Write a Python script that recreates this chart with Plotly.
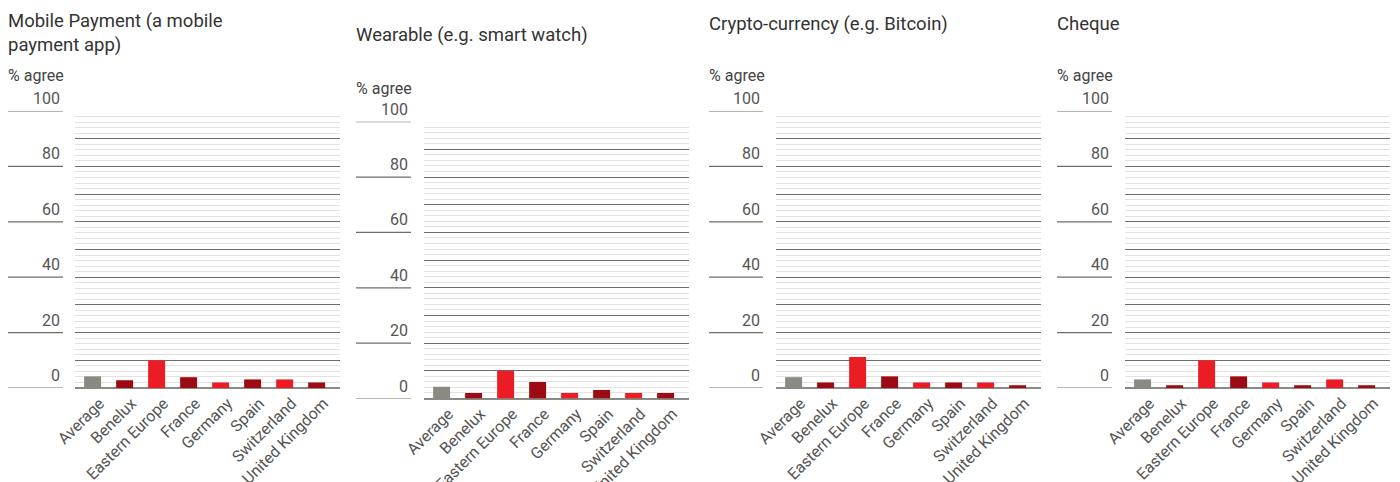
import plotly.graph_objects as go

categories = ["Average", "Benelux", "Eastern Europe", "France", "Germany",
              "Spain", "Switzerland", "United Kingdom"]
mobile_payment = [4.2, 2.8, 10.0, 3.9, 2.0, 3.1, 3.1, 2.0]
wearable = [4.2, 2.0, 10.0, 6.0, 2.0, 3.1, 2.0, 2.0]
crypto = [3.9, 2.0, 11.2, 4.2, 2.0, 2.0, 2.0, 1.0]
cheque = [3.1, 1.0, 10.0, 4.2, 2.0, 1.0, 3.1, 1.0]
titles = ["Mobile Payment (a mobile<br>payment app)", "Wearable (e.g. smart watch)",
          "Crypto-currency (e.g. Bitcoin)", "Cheque"]
y_label = "% agree"
tick_values = [0, 20, 40, 60, 80, 100]
tick_labels = ["0", "20", "40", "60", "80", "100"]

series = [mobile_payment, wearable, crypto, cheque]
bar_colors = ["#8a8a83", "#9c0a13", "#ec1c24", "#9c0a13", "#ec1c24",
              "#9c0a13", "#ec1c24", "#9c0a13"]

W, H = 1400, 482
FONT = "Roboto, 'Open Sans', sans-serif"
# panel geometry in pixels
panels = [
    dict(lx0=8, lx1=63, gx0=75, gx1=340, y0=388, y100=111, ty=8, ay=75),
    dict(lx0=356, lx1=411, gx0=424, gx1=689, y0=398.5, y100=121.7, ty=22, ay=88),
    dict(lx0=709, lx1=763, gx0=776, gx1=1041, y0=388, y100=111, ty=11, ay=75),
    dict(lx0=1057, lx1=1112, gx0=1125, gx1=1390, y0=388, y100=111, ty=11, ay=75),
]

fig = go.Figure()
shapes = []
annotations = []
for i, (vals, p) in enumerate(zip(series, panels)):
    n = i + 1
    xa = "x" if n == 1 else f"x{n}"
    ya = "y" if n == 1 else f"y{n}"
    fig.add_trace(go.Bar(x=categories, y=vals, marker=dict(color=bar_colors, line=dict(width=0)),
                         width=0.53, xaxis=xa, yaxis=ya, showlegend=False, hoverinfo="x+y"))
    xkey = "xaxis" if n == 1 else f"xaxis{n}"
    ykey = "yaxis" if n == 1 else f"yaxis{n}"
    fig.layout[xkey] = dict(domain=[p["gx0"] / W, p["gx1"] / W], anchor=ya,
                            range=[-0.55, 7.73], showgrid=False, zeroline=False,
                            showline=False, ticks="", tickangle=-45, automargin=False,
                            ticklabelshift=7, ticklabelstandoff=2,
                            tickfont=dict(family=FONT, size=16, color="#555555"),
                            fixedrange=True)
    fig.layout[ykey] = dict(domain=[1 - p["y0"] / H, 1 - p["y100"] / H], anchor=xa,
                            range=[0, 100], tick0=0, dtick=10, showgrid=True,
                            gridcolor="#6e6e69", gridwidth=1, zeroline=True,
                            zerolinecolor="#8a8a85", zerolinewidth=1.5, automargin=False,
                            showticklabels=False, showline=False, ticks="",
                            minor=dict(dtick=2, showgrid=True, gridcolor="#e2e2e2", gridwidth=1.2),
                            fixedrange=True)
    yref = ya
    for v, t in zip(tick_values, tick_labels):
        shapes.append(dict(type="line", xref="paper", yref=yref,
                           x0=p["lx0"] / W, x1=p["lx1"] / W, y0=v, y1=v,
                           line=dict(color="#6e6e69", width=1.2)))
        annotations.append(dict(text=t, xref="paper", yref=yref, x=(p["lx1"] - 1) / W, y=v,
                                xanchor="right", yanchor="bottom", showarrow=False, yshift=1,
                                font=dict(family=FONT, size=16, color="#555555")))
    annotations.append(dict(text=titles[i], xref="paper", yref="paper", x=(p["lx0"] - 2) / W,
                            y=1 - p["ty"] / H, xanchor="left", yanchor="top", align="left",
                            showarrow=False,
                            font=dict(family=FONT, size=18.5, color="#333333")))
    annotations.append(dict(text=y_label, xref="paper", yref="paper", x=(p["lx0"] - 2) / W,
                            y=1 - p["ay"] / H, xanchor="left", yanchor="middle",
                            showarrow=False,
                            font=dict(family=FONT, size=16, color="#444444")))

fig.update_layout(width=W, height=H, margin=dict(l=0, r=0, t=0, b=0, autoexpand=False),
                  paper_bgcolor="white", plot_bgcolor="white",
                  shapes=shapes, annotations=annotations, bargap=0.4)
fig.write_html("out.html", post_script="document.body.style.margin='0px';",
               config={"displayModeBar": False})
